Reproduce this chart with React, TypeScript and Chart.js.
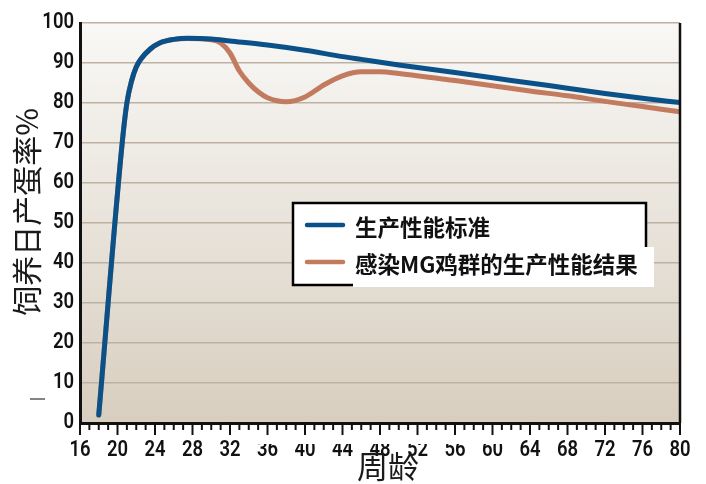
import React, { useEffect, useRef } from "react";
import { Chart, registerables } from "chart.js";

Chart.register(...registerables);

// ---- data ----
const seriesNames = ["生产性能标准", "感染MG鸡群的生产性能结果"];
const xTitle = "周龄";
const yTitle = "饲养日产蛋率%";

const weeksStd = [18, 20.5, 21, 21.5, 22, 22.5, 23.5, 24.5, 26, 27.5, 30, 32, 36, 40, 44, 46, 50, 56, 60, 64, 68, 72, 76, 80];
const valuesStd = [2, 70, 80, 85.5, 89, 91, 93.5, 95, 95.9, 96.2, 96, 95.5, 94.5, 93.2, 91.6, 90.9, 89.5, 87.6, 86.3, 85.0, 83.7, 82.4, 81.2, 80.1];

const weeksMG = [18, 20.5, 21, 21.5, 22, 22.5, 23.5, 24.5, 26, 27.5, 30, 31, 32, 33, 34, 35, 36, 38, 40, 42, 44, 46, 48, 50, 56, 60, 64, 68, 72, 76, 80];
const valuesMG = [2, 70, 80, 85.5, 89, 91, 93.5, 95, 95.9, 96.1, 95.8, 95, 92.5, 88, 85, 82.8, 81.3, 80.3, 81.5, 84.5, 86.8, 87.8, 87.8, 87.4, 85.6, 84.3, 83.0, 81.8, 80.4, 79.1, 77.8];

const xMin = 16;
const xMax = 80;
const xStep = 4;
const yMin = 0;
const yMax = 100;
const yStep = 10;

const BLUE = "#0b5189";
const BROWN = "#c27b5f";
const NUM_FONT = '600 22px Roboto, "Liberation Sans", sans-serif';
const CJK_FONT = '"Noto Sans CJK SC", "Noto Sans", sans-serif';
const SQUEEZE = 0.84;

function drawSqueezed(ctx: any, text: string, x: number, y: number, align: string) {
  ctx.save();
  ctx.translate(x, y);
  ctx.scale(SQUEEZE, 1);
  ctx.textAlign = align;
  ctx.fillText(text, 0, 0);
  ctx.restore();
}

const decorPlugin = {
  id: "decor",
  beforeDraw(chart: any) {
    const { ctx, chartArea } = chart;
    const { left, top, right, bottom } = chartArea;
    const g = ctx.createLinearGradient(0, top, 0, bottom);
    g.addColorStop(0, "#f9f8f6");
    g.addColorStop(1, "#d8cebf");
    ctx.save();
    ctx.fillStyle = g;
    ctx.fillRect(left, top, right - left, bottom - top);
    ctx.restore();
  },
  afterDraw(chart: any) {
    const { ctx, chartArea } = chart;
    const { left, top, right, bottom } = chartArea;
    const xs = chart.scales.x;
    const ys = chart.scales.y;
    ctx.save();
    // right border
    ctx.strokeStyle = "#111";
    ctx.lineWidth = 2.5;
    ctx.beginPath();
    ctx.moveTo(right, top);
    ctx.lineTo(right, bottom);
    ctx.stroke();
    // x tick marks (weekly minor, major every 4)
    ctx.lineWidth = 2;
    for (let w = xMin; w <= xMax; w++) {
      const px = xs.getPixelForValue(w);
      const len = (w - xMin) % xStep === 0 ? 12 : 7;
      ctx.beginPath();
      ctx.moveTo(px, bottom);
      ctx.lineTo(px, bottom + len);
      ctx.stroke();
    }
    // tick labels
    ctx.fillStyle = "#111";
    ctx.font = NUM_FONT;
    ctx.textBaseline = "alphabetic";
    xs.ticks.forEach((t: any) => {
      drawSqueezed(ctx, String(t.value), xs.getPixelForValue(t.value), bottom + 33, "center");
    });
    ys.ticks.forEach((t: any) => {
      drawSqueezed(ctx, String(t.value), left - 6, ys.getPixelForValue(t.value) + 5, "right");
    });
    // white box covering part of tick labels (as in reference)
    ctx.fillStyle = "#ffffff";
    ctx.fillRect(248, bottom + 14, 264, 7);

    // axis titles
    ctx.fillStyle = "#1a1a1a";
    ctx.font = `31px ${CJK_FONT}`;
    ctx.textAlign = "center";
    ctx.textBaseline = "middle";
    ctx.fillText(xTitle, 388, 466);
    ctx.save();
    ctx.translate(27, 212);
    ctx.rotate(-Math.PI / 2);
    ctx.font = `30px ${CJK_FONT}`;
    ctx.fillText(yTitle, 0, 0);
    ctx.restore();

    // small dash left of axis
    ctx.strokeStyle = "#333";
    ctx.lineWidth = 1.2;
    ctx.beginPath();
    ctx.moveTo(30, 399);
    ctx.lineTo(45, 399);
    ctx.stroke();

    // legend
    const lx = left + 213;
    const ly = top + 180;
    const lw = 353;
    const lh = 82;
    ctx.fillStyle = "#ffffff";
    ctx.fillRect(lx, ly, lw, lh);
    ctx.strokeStyle = "#000";
    ctx.lineWidth = 2.5;
    ctx.strokeRect(lx, ly, lw, lh);
    ctx.fillStyle = "#ffffff";
    ctx.fillRect(lx + 60, ly + 44, 301, 40);
    const colors = [BLUE, BROWN];
    const rowY = [ly + 22, ly + 59];
    ctx.lineCap = "round";
    ctx.lineWidth = 4.5;
    ctx.font = `bold 22.5px ${CJK_FONT}`;
    ctx.textAlign = "left";
    ctx.textBaseline = "middle";
    for (let i = 0; i < seriesNames.length; i++) {
      ctx.strokeStyle = colors[i];
      ctx.beginPath();
      ctx.moveTo(lx + 14, rowY[i]);
      ctx.lineTo(lx + 50, rowY[i]);
      ctx.stroke();
      ctx.fillStyle = "#111";
      ctx.fillText(seriesNames[i], lx + 62, rowY[i] + 2);
    }
    ctx.restore();
  },
};

export default function App() {
  const ref = useRef<HTMLCanvasElement | null>(null);
  useEffect(() => {
    if (!ref.current) return;
    const chart = new Chart(ref.current, {
      type: "line",
      data: {
        datasets: [
          {
            label: seriesNames[0],
            data: weeksStd.map((w, i) => ({ x: w, y: valuesStd[i] })),
            borderColor: BLUE,
            borderWidth: 5,
            pointRadius: 0,
            cubicInterpolationMode: "monotone",
            borderCapStyle: "round",
            borderJoinStyle: "round",
            fill: false,
          },
          {
            label: seriesNames[1],
            data: weeksMG.map((w, i) => ({ x: w, y: valuesMG[i] })),
            borderColor: BROWN,
            borderWidth: 5,
            pointRadius: 0,
            cubicInterpolationMode: "monotone",
            borderCapStyle: "round",
            borderJoinStyle: "round",
            fill: false,
          },
        ],
      },
      options: {
        animation: false,
        responsive: true,
        maintainAspectRatio: false,
        layout: { padding: { left: 0, right: 26, top: 23, bottom: 0 } },
        plugins: {
          legend: { display: false },
          tooltip: { enabled: false },
          title: { display: false },
        },
        scales: {
          x: {
            type: "linear",
            min: xMin,
            max: xMax,
            afterFit: (s: any) => {
              s.height = 61;
            },
            ticks: { stepSize: xStep, autoSkip: false, maxRotation: 0, display: false },
            grid: { display: false },
            border: { display: true, color: "#111", width: 3 },
          },
          y: {
            min: yMin,
            max: yMax,
            afterFit: (s: any) => {
              s.width = 80;
            },
            ticks: { stepSize: yStep, display: false },
            grid: {
              display: true,
              drawTicks: false,
              color: "#bdb1a1",
              lineWidth: 1.6,
            },
            border: { display: true, color: "#111", width: 3 },
          },
        },
      },
      plugins: [decorPlugin],
    } as any);
    return () => chart.destroy();
  }, []);
  return (
    <div style={{ position: "absolute", left: 0, top: 0, width: 706, height: 484, background: "#fff" }}>
      <canvas ref={ref} />
    </div>
  );
}
